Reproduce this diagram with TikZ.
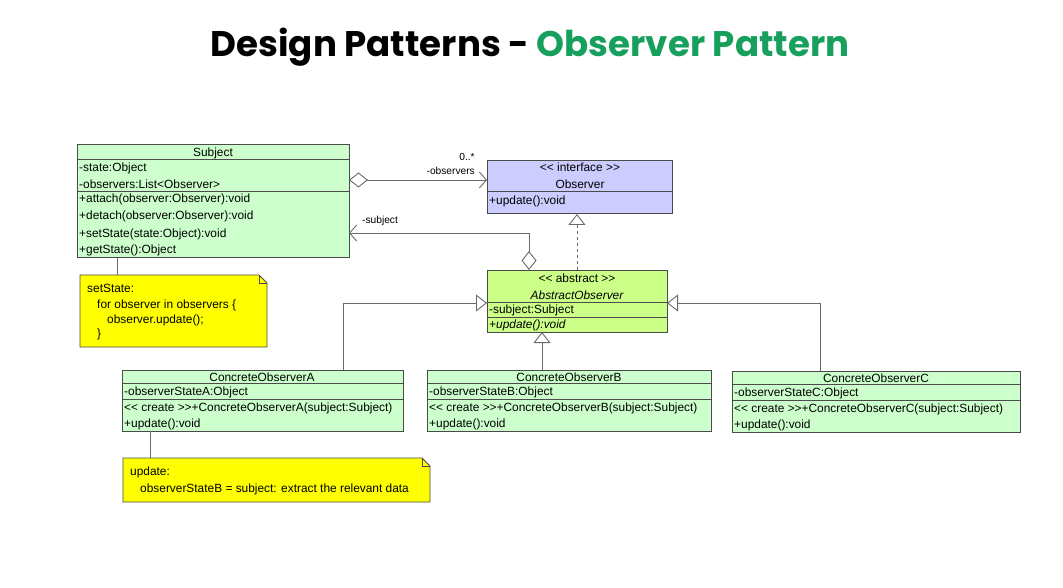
\documentclass[tikz,border=0pt]{standalone}
\usepackage{fontspec}
\setmainfont{Liberation Sans}
\newfontfamily\titlefont{Poppins}
\usetikzlibrary{arrows.meta,calc}
\definecolor{umlgreen}{HTML}{CCFFCC}
\definecolor{umlblue}{HTML}{CCCCFF}
\definecolor{umllime}{HTML}{CCFF88}
\definecolor{umlnote}{HTML}{FFFF00}
\definecolor{umlborder}{HTML}{4A4A4A}
\definecolor{umlline}{HTML}{6A6A6A}
\definecolor{titlegreen}{HTML}{17A05D}

\tikzset{
  umlclass/.style={draw=umlborder, line width=1pt, anchor=north west, inner sep=0pt, outer sep=0pt},
  notebox/.style={anchor=north west, inner sep=0pt, outer sep=0pt},
  notepaper/.style={draw=umlborder, fill=umlnote, line width=0.9pt},
  member/.style={anchor=base west, inner sep=0pt, font=\fontsize{11.9}{14}\selectfont},
  heading/.style={anchor=base, inner sep=0pt, font=\fontsize{11.9}{14}\selectfont},
  rolelabel/.style={inner sep=0pt, font=\fontsize{10.2}{12}\selectfont},
  divider/.style={draw=umlborder, line width=1pt},
  link/.style={draw=umlline, line width=0.9pt},
  aggregation/.style={link, {Diamond[fill=white,length=19pt,width=15pt]}-{Straight Barb[length=7pt,width=16pt]}},
  generalization/.style={link, -{Triangle[fill=white,length=11pt,width=17pt]}},
  realization/.style={link, dashed, -{Triangle[fill=white,length=11pt,width=17pt]}}
}

\begin{document}
\begin{tikzpicture}[x=1pt,y=-1pt]
  \useasboundingbox (0,0) rectangle (1063,588);

  % title
  \node[anchor=base, font=\titlefont\bfseries\fontsize{35.6}{40}\selectfont] (title) at (530,57)
    {Design Patterns - \textcolor{titlegreen}{Observer Pattern}};

  % Subject
  \node[umlclass, fill=umlgreen, minimum width=272pt, minimum height=113pt] (subject) at (77,145) {};
  \draw[divider] (77,160) -- (349,160);
  \draw[divider] (77,192) -- (349,192);
  \node[heading] (subject-name) at (213,157) {Subject};
  \node[member] (subject-state) at (79,172) {-state:Object};
  \node[member] (subject-list) at (79,189) {-observers:List<Observer>};
  \node[member] (subject-attach) at (79,203) {+attach(observer:Observer):void};
  \node[member] (subject-detach) at (79,220) {+detach(observer:Observer):void};
  \node[member] (subject-set) at (79,237) {+setState(state:Object):void};
  \node[member] (subject-get) at (79,254) {+getState():Object};

  % Observer interface
  \node[umlclass, fill=umlblue, minimum width=185pt, minimum height=53pt] (observer) at (487,161) {};
  \draw[divider] (487,192) -- (672,192);
  \node[heading] (observer-stereo) at (580,172) {<{}< interface >{}>};
  \node[heading] (observer-name) at (580,189) {Observer};
  \node[member] (observer-update) at (489,205) {+update():void};

  % AbstractObserver
  \node[umlclass, fill=umllime, minimum width=180pt, minimum height=62pt] (abstract) at (487,270) {};
  \draw[divider] (487,302) -- (667,302);
  \draw[divider] (487,317) -- (667,317);
  \node[heading] (abstract-stereo) at (577,282) {<{}< abstract >{}>};
  \node[heading] (abstract-name) at (577,299) {\itshape AbstractObserver};
  \node[member] (abstract-subject) at (489,313) {-subject:Subject};
  \node[member] (abstract-update) at (489,328) {\itshape +update():void};

  % ConcreteObserverA
  \node[umlclass, fill=umlgreen, minimum width=281pt, minimum height=61pt] (conca) at (122,370) {};
  \draw[divider] (122,383) -- (403,383);
  \draw[divider] (122,399) -- (403,399);
  \node[heading] (conca-name) at (262,381) {ConcreteObserverA};
  \node[member] (conca-state) at (124,395) {-observerStateA:Object};
  \node[member] (conca-create) at (124,411) {<{}< create >{}>+ConcreteObserverA(subject:Subject)};
  \node[member] (conca-update) at (124,427) {+update():void};

  % ConcreteObserverB
  \node[umlclass, fill=umlgreen, minimum width=284pt, minimum height=61pt] (concb) at (427,370) {};
  \draw[divider] (427,383) -- (711,383);
  \draw[divider] (427,399) -- (711,399);
  \node[heading] (concb-name) at (569,381) {ConcreteObserverB};
  \node[member] (concb-state) at (429,395) {-observerStateB:Object};
  \node[member] (concb-create) at (429,411) {<{}< create >{}>+ConcreteObserverB(subject:Subject)};
  \node[member] (concb-update) at (429,427) {+update():void};

  % ConcreteObserverC
  \node[umlclass, fill=umlgreen, minimum width=288pt, minimum height=61pt] (concc) at (732,371) {};
  \draw[divider] (732,384) -- (1020,384);
  \draw[divider] (732,400) -- (1020,400);
  \node[heading] (concc-name) at (876,382) {ConcreteObserverC};
  \node[member] (concc-state) at (734,396) {-observerStateC:Object};
  \node[member] (concc-create) at (734,412) {<{}< create >{}>+ConcreteObserverC(subject:Subject)};
  \node[member] (concc-update) at (734,428) {+update():void};

  % notes
  \node[notebox, minimum width=187pt, minimum height=72pt] (notestate) at (80,275) {};
  \draw[notepaper] (notestate.north west) -- ([xshift=-8pt]notestate.north east)
    -- ([yshift=-8pt]notestate.north east) -- (notestate.south east) -- (notestate.south west) -- cycle;
  \draw[notepaper, fill=none] ([xshift=-8pt]notestate.north east) |- ([yshift=-8pt]notestate.north east);
  \node[member] (notestate-l1) at (87,292) {setState:};
  \node[member] (notestate-l2) at (97,308) {for observer in observers \{};
  \node[member] (notestate-l3) at (107,323) {observer.update();};
  \node[member] (notestate-l4) at (97,337) {\}};

  \node[notebox, minimum width=307pt, minimum height=44pt] (noteupdate) at (123,458) {};
  \draw[notepaper] (noteupdate.north west) -- ([xshift=-8pt]noteupdate.north east)
    -- ([yshift=-8pt]noteupdate.north east) -- (noteupdate.south east) -- (noteupdate.south west) -- cycle;
  \draw[notepaper, fill=none] ([xshift=-8pt]noteupdate.north east) |- ([yshift=-8pt]noteupdate.north east);
  \node[member] (noteupdate-l1) at (130,475) {update:};
  \node[member] (noteupdate-l2) at (140,492) {observerStateB = subject: extract the relevant data};

  % connectors
  \draw[aggregation] ([yshift=-35pt]subject.north east) -- ([yshift=-35pt]subject.north east -| observer.west);
  \node[rolelabel] (role-mult) at (467,157) {0..*};
  \node[rolelabel, anchor=east] (role-observers) at (475,171) {-observers};

  \draw[aggregation] ([xshift=42pt]abstract.north west) |- ([yshift=-88pt]subject.north east);
  \node[rolelabel, anchor=west] (role-subject) at (362,221) {-subject};

  \draw[realization] ([xshift=90pt]abstract.north west) -- ([xshift=90pt]abstract.north west |- observer.south);

  \draw[generalization] ([xshift=221pt]conca.north west) |- ([yshift=-33pt]abstract.north west);
  \draw[generalization] ([xshift=55pt]abstract.south west |- concb.north) -- ([xshift=55pt]abstract.south west);
  \draw[generalization] ([xshift=88pt]concc.north west) |- ([yshift=-33pt]abstract.north east);

  \draw[link] ([xshift=40pt]subject.south west) -- ([xshift=37pt]notestate.north west);
  \draw[link] ([xshift=28pt]conca.south west) -- ([xshift=27pt]noteupdate.north west);
\end{tikzpicture}
\end{document}
